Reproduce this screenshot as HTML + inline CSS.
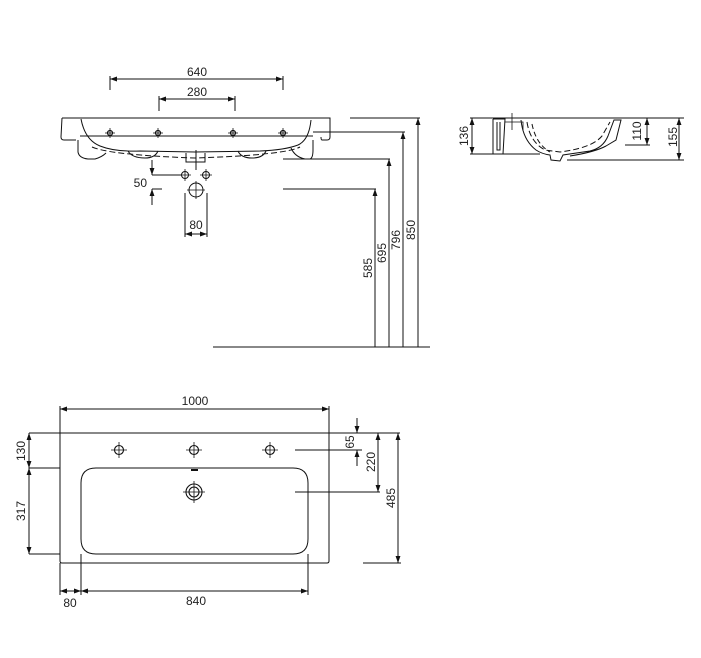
<!DOCTYPE html>
<html><head><meta charset="utf-8"><style>
html,body{margin:0;padding:0;background:#fff}
svg{display:block}
text{font-family:"Liberation Sans",sans-serif;font-size:12px;fill:#222}
</style></head><body>
<svg width="701" height="658" viewBox="0 0 701 658" xmlns="http://www.w3.org/2000/svg">
<defs>
<marker id="a" viewBox="0 0 10 10" refX="10" refY="5" markerWidth="7" markerHeight="7" orient="auto-start-reverse"><path d="M0,1.5 L10,5 L0,8.5z" fill="#111"/></marker>
</defs>
<g stroke="#111" stroke-width="1" fill="none">
<!-- FRONT VIEW -->
<line x1="110" y1="79" x2="283" y2="79" marker-start="url(#a)" marker-end="url(#a)"/>
<line x1="110" y1="76" x2="110" y2="90"/><line x1="283" y1="76" x2="283" y2="90"/>
<line x1="159" y1="99" x2="235" y2="99" marker-start="url(#a)" marker-end="url(#a)"/>
<line x1="159" y1="96" x2="159" y2="111"/><line x1="235" y1="96" x2="235" y2="111"/>
<path d="M62,118 L330,118 L330,137 Q330,140 327,140 L322,140 Q321,140 321,137"/>
<path d="M62,118 L61,137 Q61,140 64,140 L76,140"/>
<line x1="80" y1="136" x2="313" y2="136"/>
<path d="M81,119 Q85,140 100,146 Q115,152 140,151 L195,152 L260,151 Q285,150 298,145 Q309,140 311,120"/>
<path d="M92,147 Q110,155 195,158 Q285,155 300,147" stroke-dasharray="6,3"/>
<path d="M78,140 L78,152 Q79,158 88,159 L95,159 Q102,157 106,153"/>
<path d="M128,151 Q132,158 145,158 Q155,158 158,151"/>
<path d="M238,151 Q241,158 252,158 Q263,158 266,151"/>
<path d="M291,148 Q295,157 305,159 L310,159 Q313,158 313,150 L313,140"/>
<path d="M186,153 L186,162 L205,162 L205,153"/>
<g stroke-width="1.2">
<circle cx="110" cy="133" r="2.5"/><circle cx="158" cy="133" r="2.5"/><circle cx="233" cy="133" r="2.5"/><circle cx="283" cy="133" r="2.5"/>
</g>
<path d="M105,133h10M110,128v10M153,133h10M158,128v10M228,133h10M233,128v10M278,133h10M283,128v10" stroke-width="0.8"/>
<line x1="196" y1="150" x2="196" y2="170"/>
<line x1="152" y1="175" x2="181" y2="175"/>
<circle cx="185" cy="175" r="3.5"/><circle cx="206" cy="175" r="3.5"/>
<path d="M179,175h12M185,169v12M200,175h12M206,169v12" stroke-width="0.8"/>
<circle cx="196" cy="190" r="7"/>
<path d="M187,190h18M196,181v18" stroke-width="0.8"/>
<line x1="152" y1="160" x2="152" y2="175" marker-end="url(#a)"/>
<line x1="152" y1="205" x2="152" y2="189" marker-end="url(#a)"/>
<line x1="152" y1="189" x2="162" y2="189"/>
<line x1="185" y1="193" x2="185" y2="237"/><line x1="207" y1="193" x2="207" y2="237"/>
<line x1="185" y1="234" x2="207" y2="234" marker-start="url(#a)" marker-end="url(#a)"/>
<line x1="350" y1="118" x2="420" y2="118"/>
<line x1="313" y1="132" x2="405" y2="132"/>
<line x1="283" y1="159" x2="390" y2="159"/>
<line x1="283" y1="189" x2="376" y2="189"/>
<line x1="213" y1="347" x2="430" y2="347"/>
<line x1="418" y1="347" x2="418" y2="118" marker-end="url(#a)"/>
<line x1="403" y1="347" x2="403" y2="132" marker-end="url(#a)"/>
<line x1="389" y1="347" x2="389" y2="159" marker-end="url(#a)"/>
<line x1="375" y1="347" x2="375" y2="189" marker-end="url(#a)"/>
<!-- SIDE VIEW -->
<line x1="470" y1="118" x2="684" y2="118"/>
<line x1="470" y1="154" x2="540" y2="154"/>
<line x1="567" y1="160" x2="684" y2="160"/>
<line x1="625" y1="145" x2="650" y2="145"/>
<line x1="472" y1="118" x2="472" y2="154" marker-start="url(#a)" marker-end="url(#a)"/>
<line x1="647" y1="118" x2="647" y2="145" marker-start="url(#a)" marker-end="url(#a)"/>
<line x1="679" y1="118" x2="679" y2="160" marker-start="url(#a)" marker-end="url(#a)"/>
<path d="M493,119 L493,154 M493,119 L505,119 L503,154 M497,122 L497,150 L500,150 L500,122"/>
<path d="M505,122 L523,122 L523,130 M512,113 L512,130 M506,122 L518,122" stroke-width="0.8"/>
<path d="M521,120 Q523,140 536,150 Q542,154 550,155 L551,160 L560,161 L563,155 L590,151 Q603,148 608,136 L614,120 L621,120 L616,140 L606,146 Q595,152 570,156"/>
<path d="M527,122 Q530,142 545,150 L560,152 Q592,148 602,136 L610,122" stroke-dasharray="6,3"/>
<path d="M532,124 Q536,144 550,152" stroke-dasharray="5,3"/>
<!-- TOP VIEW -->
<line x1="60" y1="409" x2="329" y2="409" marker-start="url(#a)" marker-end="url(#a)"/>
<line x1="60" y1="406" x2="60" y2="433"/><line x1="329" y1="406" x2="329" y2="433"/>
<path d="M29,433 L400,433"/>
<path d="M60,433 L60,561 Q60,563 62,563 L327,563 Q329,563 329,561 L329,433"/>
<path d="M96,468 L293,468 Q308,468 308,483 L308,539 Q308,554 293,554 L96,554 Q81,554 81,539 L81,483 Q81,468 96,468z"/>
<g stroke-width="1.1">
<circle cx="119" cy="450" r="4.5"/><circle cx="194" cy="450" r="4.5"/><circle cx="270" cy="450" r="4.5"/>
<circle cx="194" cy="492" r="8"/><circle cx="194" cy="492" r="5"/>
</g>
<path d="M111,450h16M119,442v16M186,450h16M194,442v16M262,450h16M270,442v16M183,492h22M194,481v22M194,492h5" stroke-width="0.8"/>
<line x1="191" y1="470" x2="198" y2="470" stroke-width="2"/>
<line x1="29" y1="468" x2="60" y2="468"/>
<line x1="29" y1="554" x2="60" y2="554"/>
<line x1="29" y1="433" x2="29" y2="468" marker-start="url(#a)" marker-end="url(#a)"/>
<line x1="29" y1="468" x2="29" y2="554" marker-start="url(#a)" marker-end="url(#a)"/>
<line x1="60" y1="563" x2="60" y2="595"/><line x1="81" y1="554" x2="81" y2="595"/><line x1="308" y1="554" x2="308" y2="595"/>
<line x1="60" y1="591" x2="81" y2="591" marker-start="url(#a)" marker-end="url(#a)"/>
<line x1="81" y1="591" x2="308" y2="591" marker-start="url(#a)" marker-end="url(#a)"/>
<line x1="295" y1="450" x2="362" y2="450"/>
<line x1="295" y1="492" x2="380" y2="492"/>
<line x1="363" y1="563" x2="401" y2="563"/>
<line x1="357" y1="418" x2="357" y2="433" marker-end="url(#a)"/>
<line x1="357" y1="466" x2="357" y2="450" marker-end="url(#a)"/>
<line x1="378" y1="433" x2="378" y2="492" marker-start="url(#a)" marker-end="url(#a)"/>
<line x1="398" y1="433" x2="398" y2="563" marker-start="url(#a)" marker-end="url(#a)"/>
</g>
<g>
<text x="197" y="76" text-anchor="middle">640</text>
<text x="197" y="96" text-anchor="middle">280</text>
<text x="147" y="187" text-anchor="end">50</text>
<text x="196" y="229" text-anchor="middle">80</text>
<text transform="translate(372,268) rotate(-90)" text-anchor="middle">585</text>
<text transform="translate(386,253) rotate(-90)" text-anchor="middle">695</text>
<text transform="translate(400,240) rotate(-90)" text-anchor="middle">796</text>
<text transform="translate(415,230) rotate(-90)" text-anchor="middle">850</text>
<text transform="translate(468,136) rotate(-90)" text-anchor="middle">136</text>
<text transform="translate(641,131) rotate(-90)" text-anchor="middle">110</text>
<text transform="translate(677,137) rotate(-90)" text-anchor="middle">155</text>
<text x="195" y="405" text-anchor="middle">1000</text>
<text transform="translate(25,451) rotate(-90)" text-anchor="middle">130</text>
<text transform="translate(25,511) rotate(-90)" text-anchor="middle">317</text>
<text x="70" y="607" text-anchor="middle">80</text>
<text x="196" y="605" text-anchor="middle">840</text>
<text transform="translate(354,442) rotate(-90)" text-anchor="middle">65</text>
<text transform="translate(375,462) rotate(-90)" text-anchor="middle">220</text>
<text transform="translate(395,498) rotate(-90)" text-anchor="middle">485</text>
</g>
</svg>
</body></html>
